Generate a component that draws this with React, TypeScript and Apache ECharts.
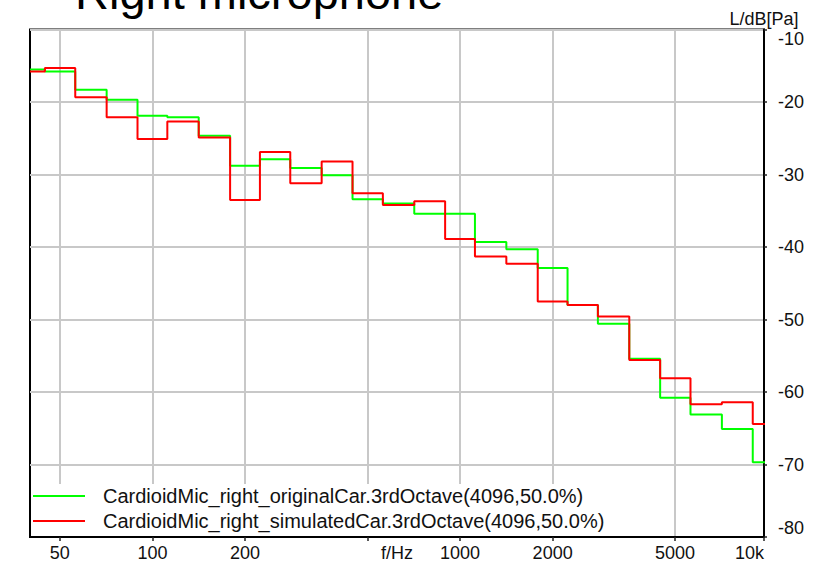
import React, { useEffect, useRef } from "react";
import * as echarts from "echarts";

// 1/3-octave band centre frequencies (Hz)
const bandFreqs = [40, 50, 63, 80, 100, 125, 160, 200, 250, 315, 400, 500, 630, 800, 1000, 1250, 1600, 2000, 2500, 3150, 4000, 5000, 6300, 8000, 10000];

// Levels in dB re Pa
const originalLevels = [-15.5, -15.8, -18.3, -19.7, -21.9, -22.1, -24.65, -28.8, -27.9, -29.1, -30.1, -33.4, -34.0, -35.4, -35.4, -39.3, -40.3, -42.9, -48.0, -50.6, -55.4, -60.8, -63.1, -65.1, -69.7];
const simulatedLevels = [-15.8, -15.3, -19.35, -22.1, -25.1, -22.7, -24.9, -33.5, -26.9, -31.2, -28.2, -32.6, -34.2, -33.7, -38.9, -41.3, -42.3, -47.5, -48.0, -49.6, -55.6, -58.1, -61.7, -61.4, -64.4];

const seriesNames = [
  "CardioidMic_right_originalCar.3rdOctave(4096,50.0%)",
  "CardioidMic_right_simulatedCar.3rdOctave(4096,50.0%)",
];

// x tick marks and labels
const xTickFreqs = [50, 100, 200, 500, 1000, 2000, 5000, 10000];
const xTickLabels = ["50", "100", "200", "", "1000", "2000", "5000", "10k"];

const FREQ_MIN = 40;
const FREQ_MAX = 9730;
const Y_MIN = -80;
const Y_MAX = -10;

const FONT = "Liberation Sans, Arial, sans-serif";

export default function App() {
  const ref = useRef<HTMLDivElement>(null);

  useEffect(() => {
    document.body.style.margin = "0";
    if (!ref.current) return;
    const chart = echarts.init(ref.current, null, { renderer: "svg" });

    const xMin = Math.log10(FREQ_MIN);
    const xMax = Math.log10(FREQ_MAX);
    const tickVals = xTickFreqs.map((f) => Math.min(Math.log10(f), xMax));
    const labelFor = (v: number) => {
      let best = 0;
      let bd = Infinity;
      tickVals.forEach((t, i) => {
        const d = Math.abs(t - v);
        if (d < bd) {
          bd = d;
          best = i;
        }
      });
      return xTickLabels[best];
    };

    const toData = (levels: number[]) => bandFreqs.map((f, i) => [Math.log10(f), levels[i]]);

    chart.setOption({
      animation: false,
      title: {
        text: "Right microphone",
        left: 70,
        top: -36,
        textStyle: { fontSize: 47, fontWeight: "normal", color: "#000", fontFamily: FONT },
      },
      grid: {
        left: 30,
        top: 29.5,
        width: 734,
        height: 507.5,
        show: true,
        borderColor: "#000",
        borderWidth: 2,
        backgroundColor: "#fff",
        outerBoundsMode: "none",
      },
      legend: {
        orient: "vertical",
        left: 31,
        top: 484,
        backgroundColor: "#fff",
        padding: [2, 10, 5, 2],
        itemWidth: 52,
        itemHeight: 2,
        itemGap: 5,
        icon: "rect",
        selectedMode: false,
        textStyle: { fontSize: 20, fontFamily: FONT, color: "#111", padding: [0, 0, 0, 13], lineHeight: 20 },
        data: seriesNames,
      },
      xAxis: {
        type: "value",
        min: xMin,
        max: xMax,
        name: "f/Hz",
        nameLocation: "middle",
        nameGap: 7,
        nameMoveOverlap: false,
        nameTextStyle: { fontSize: 18, fontFamily: FONT, color: "#111", verticalAlign: "top" },
        axisLine: { show: true, onZero: false, lineStyle: { color: "#000", width: 2 } },
        axisTick: { show: true, length: 4, customValues: tickVals, lineStyle: { color: "#222", width: 1.5 } },
        axisLabel: {
          customValues: tickVals,
          margin: 7,
          fontSize: 18,
          fontFamily: FONT,
          color: "#111",
          formatter: (v: number) => labelFor(v),
          alignMaxLabel: "right",
        },
        splitLine: { show: true, lineStyle: { color: "#c8c8c8", width: 2 } },
      },
      yAxis: {
        type: "value",
        position: "right",
        min: Y_MIN,
        max: Y_MAX,
        interval: 10,
        name: "L/dB[Pa]",
        nameLocation: "end",
        nameGap: 2,
        nameMoveOverlap: false,
        nameTextStyle: { fontSize: 18, fontFamily: FONT, color: "#111" },
        axisLine: { show: true, lineStyle: { color: "#000", width: 2 } },
        axisTick: { show: true, length: 3, lineStyle: { color: "#222", width: 1.5 } },
        axisLabel: {
          margin: 14,
          fontSize: 18,
          fontFamily: FONT,
          color: "#111",
          verticalAlignMaxLabel: "top",
          verticalAlignMinLabel: "bottom",
        },
        splitLine: { show: true, lineStyle: { color: "#c8c8c8", width: 2 } },
      },
      series: [
        {
          name: seriesNames[0],
          type: "line",
          step: "middle",
          symbol: "none",
          color: "#00ff00",
          lineStyle: { color: "#00ff00", width: 2 },
          data: toData(originalLevels),
        },
        {
          name: seriesNames[1],
          type: "line",
          step: "middle",
          symbol: "none",
          color: "#ff0000",
          lineStyle: { color: "#ff0000", width: 2 },
          data: toData(simulatedLevels),
        },
      ],
    });

    return () => chart.dispose();
  }, []);

  return <div ref={ref} style={{ width: 821, height: 565 }} />;
}
